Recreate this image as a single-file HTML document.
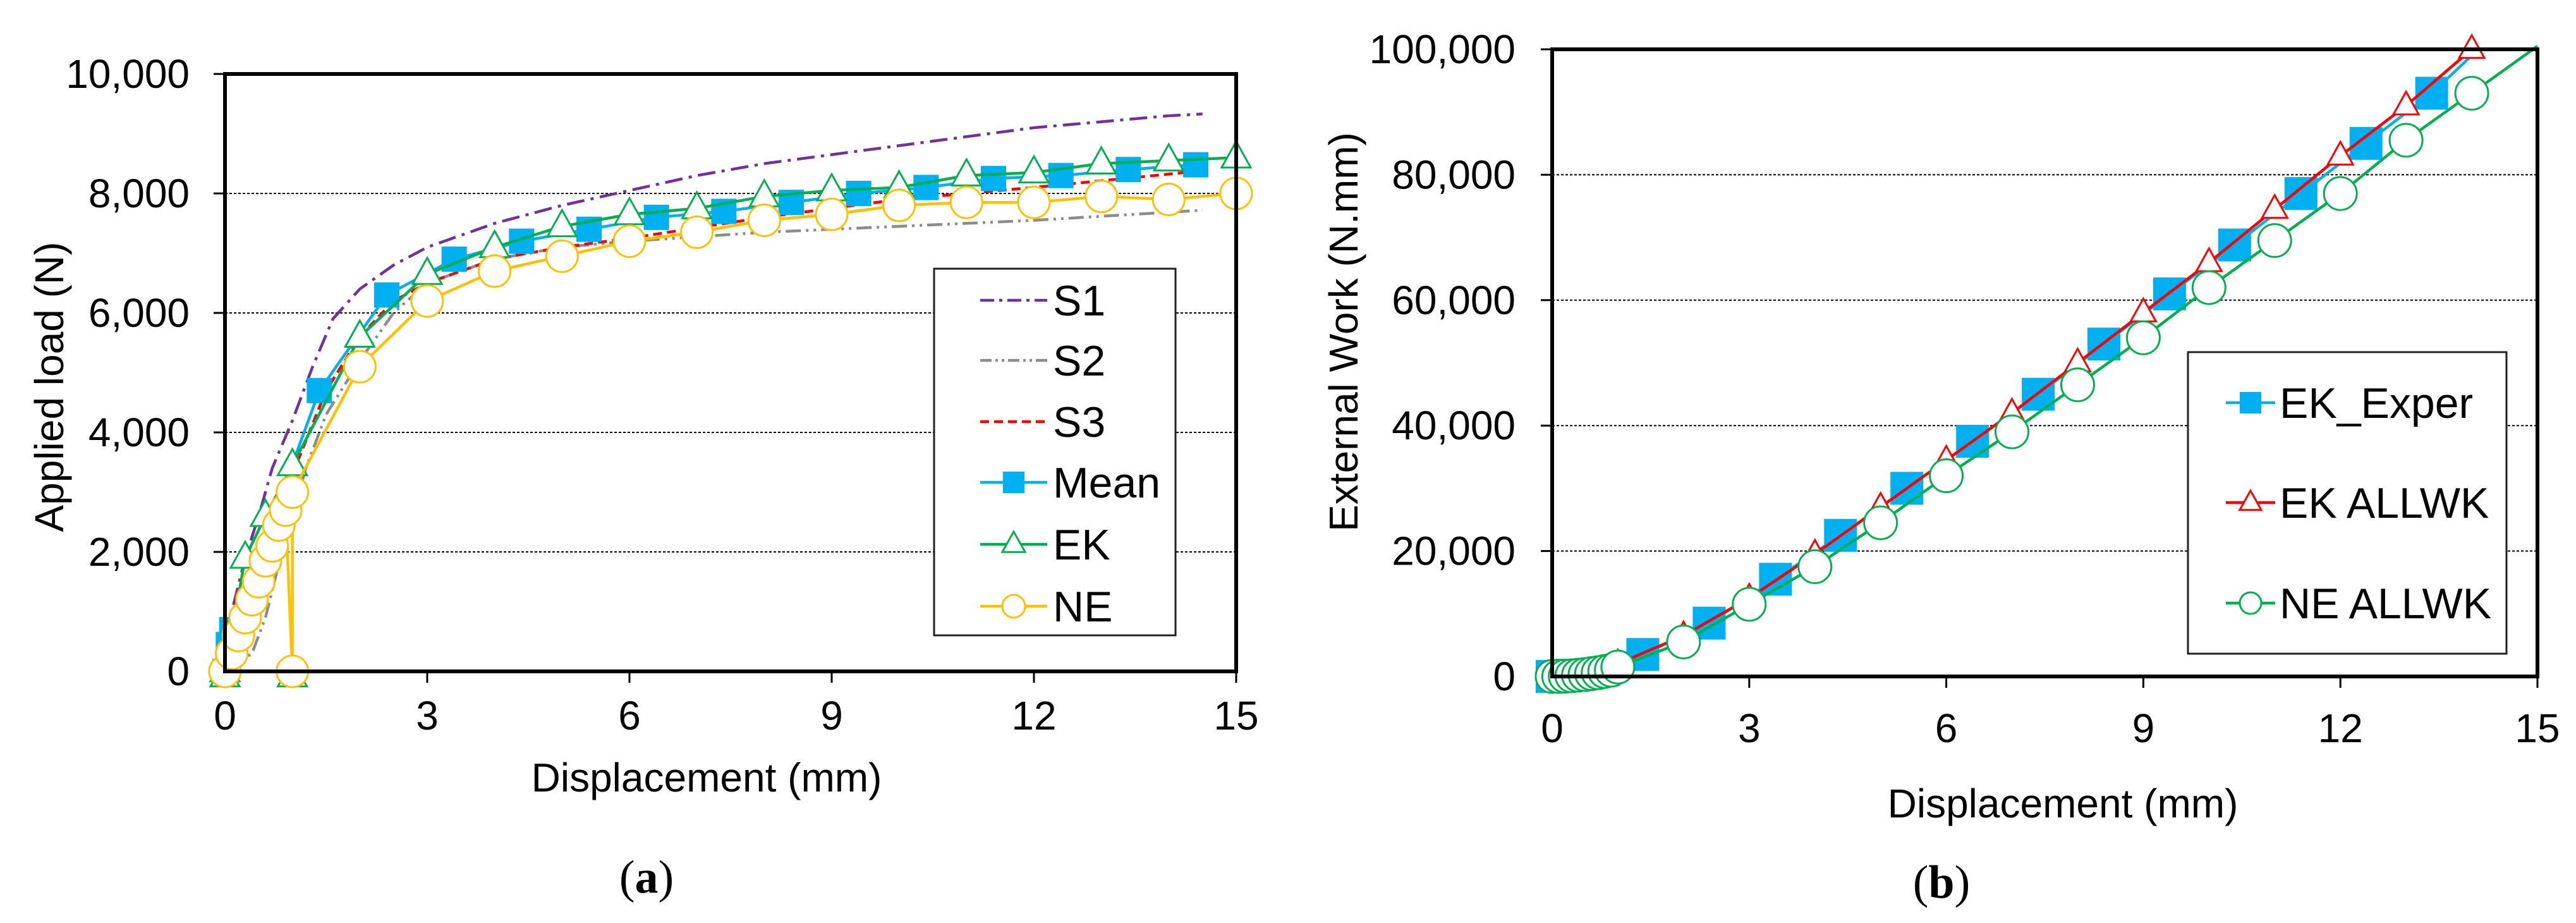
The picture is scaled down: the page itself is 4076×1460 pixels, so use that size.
<!DOCTYPE html>
<html><head><meta charset="utf-8">
<style>
html,body{margin:0;padding:0;background:#fff;}
svg{display:block;font-family:"Liberation Sans",Arial,sans-serif;}
</style></head>
<body>
<svg id="fig" width="4076" height="1460" viewBox="0 0 4076 1460" xmlns="http://www.w3.org/2000/svg">
<rect width="4076" height="1460" fill="#fff"/>
<g id="chartA"></g>
<g id="chartB"></g>
<text x="1023" y="1412" font-family="Liberation Serif,serif" font-size="74" text-anchor="middle">(<tspan font-weight="bold">a</tspan>)</text>
<text x="3072" y="1420" font-family="Liberation Serif,serif" font-size="74" text-anchor="middle">(<tspan font-weight="bold">b</tspan>)</text>
</svg>
<script>
// ---------- Chart A data ----------
const aXTicks = [0,3,6,9,12,15];
const aYTicks = [0,2000,4000,6000,8000,10000];
const aYTickLabels = ["0","2,000","4,000","6,000","8,000","10,000"];
const aS1X = [0,0.1,0.3,0.5,0.7,1,1.3,1.6,2,2.5,3,4,5,6,7,8,9,10,11,12,13,14,14.5];
const aS1Y = [0,1000,1900,2600,3400,4200,5100,5900,6400,6800,7100,7500,7800,8050,8300,8500,8650,8800,8950,9100,9200,9300,9330];
const aS2X = [0,0.2,0.4,0.6,0.8,1,1.2,1.5,2,2.5,3,4,5,6,8,10,12,14.5];
const aS2Y = [0,150,300,900,1800,2600,3400,4300,5200,6000,6500,6900,7100,7200,7350,7450,7550,7720];
const aS3X = [0,0.5,1,1.5,2,2.5,3,4,5,6,8,10,12,14.5];
const aS3Y = [0,1500,3300,4700,5600,6200,6500,6900,7100,7250,7600,7900,8100,8380];
const aMeanX = [0,0.05,0.1,1.4,2.4,3.4,4.4,5.4,6.4,7.4,8.4,9.4,10.4,11.4,12.4,13.4,14.4];
const aMeanY = [0,450,700,4700,6300,6900,7200,7400,7600,7700,7850,8000,8100,8250,8300,8400,8480];
const aEKX = [0,0.3,0.6,1,2,3,4,5,6,7,8,9,10,11,12,13,14,15];
const aEKY = [0,1900,2600,3450,5600,6650,7100,7450,7650,7750,7950,8050,8100,8300,8350,8500,8550,8600];
const aEKExtraX = [0,1];
const aEKExtraY = [0,0];
const aNEX = [0,0.1,0.2,0.3,0.4,0.5,0.6,0.7,0.8,0.9,1,1,2,3,4,5,6,7,8,9,10,11,12,13,14,15];
const aNEY = [0,300,600,900,1200,1500,1850,2100,2450,2700,0,3000,5100,6200,6700,6950,7200,7350,7550,7650,7800,7850,7850,7950,7900,8000];
const aLegendLabels = ["S1","S2","S3","Mean","EK","NE"];

// ---------- Chart B data ----------
const bXTicks = [0,3,6,9,12,15];
const bYTicks = [0,20000,40000,60000,80000,100000];
const bYTickLabels = ["0","20,000","40,000","60,000","80,000","100,000"];
const bExpX = [0,0.1,0.2,0.3,1.38,2.39,3.4,4.39,5.4,6.4,7.4,8.4,9.4,10.39,11.4,12.39,13.39,14];
const bExpY = [0,0,100,200,3500,8500,15500,22500,30000,37500,45000,53000,61000,68800,77000,85000,93000,99000];
const bExpMarkerCount = 17;
const bEKX = [0,0.2,0.4,0.6,0.8,1,2,3,4,5,6,7,8,9,10,11,12,13,14];
const bEKY = [0,100,300,600,1100,2000,6500,12500,19500,27000,34500,42000,50000,58000,66000,74500,83000,91000,100000];
const bNEX = [0,0.1,0.2,0.3,0.4,0.5,0.6,0.7,0.8,0.9,1,2,3,4,5,6,7,8,9,10,11,12,13,14,15];
const bNEY = [0,0,50,100,200,300,450,600,800,1000,1500,5500,11500,17500,24500,32000,39000,46500,54000,62000,69500,77000,85500,93000,100500];
const bNEMarkerCount = 24;
const bLegendLabels = ["EK_Exper","EK ALLWK","NE ALLWK"];

const NS = "http://www.w3.org/2000/svg";
function mk(parent, tag, attrs){
  const e = document.createElementNS(NS, tag);
  for (const k in attrs) e.setAttribute(k, attrs[k]);
  parent.appendChild(e);
  return e;
}
function txt(parent, x, y, s, size, anchor, extra){
  const t = mk(parent, "text", {x:x, y:y, "font-size":size, "text-anchor":anchor||"middle", fill:"#000"});
  if (extra) t.setAttribute("transform", extra);
  t.textContent = s;
  return t;
}
function marker(parent, kind, x, y, color, sz){
  let e;
  if (kind === "square") {
    e = mk(parent, "rect", {x:x-sz/2, y:y-sz/2, width:sz, height:sz, fill:color});
  } else if (kind === "tri") {
    const h = sz*0.9;
    e = mk(parent, "polygon", {points:`${x},${y-h*0.62} ${x-sz/2},${y+h*0.38} ${x+sz/2},${y+h*0.38}`, fill:"#fff", stroke:color, "stroke-width":3});
  } else {
    e = mk(parent, "circle", {cx:x, cy:y, r:sz/2, fill:"#fff", stroke:color, "stroke-width":3});
  }
  return e;
}
function pathD(xs, ys, sx, sy){
  return xs.map((v,i)=>(i?"L":"M")+sx(v).toFixed(1)+","+sy(ys[i]).toFixed(1)).join(" ");
}

function axes(g, L, R, T, B, xTicks, yTicks, yLabels, sx, sy, xTickY, yLabX){
  yTicks.forEach((v,i)=>{
    if (v>0 && v<yTicks[yTicks.length-1]) {
      const gl = mk(g, "line", {x1:L, x2:R, y1:sy(v), y2:sy(v), stroke:"#000", "stroke-width":2, "stroke-dasharray":"4,3"});
      
      
    }
    mk(g, "line", {x1:L-18, x2:L, y1:sy(v), y2:sy(v), stroke:"#000", "stroke-width":3});
    const t = txt(g, yLabX, sy(v)+22, yLabels[i], 64, "end");
    
    
  });
  xTicks.forEach(v=>{
    mk(g, "line", {x1:sx(v), x2:sx(v), y1:B, y2:B+18, stroke:"#000", "stroke-width":3});
    const t = txt(g, sx(v), xTickY, String(v), 64, "middle");
    
    
  });
}
function frame(g, L, R, T, B){
  const f = mk(g, "rect", {x:L, y:T, width:R-L, height:B-T, fill:"none", stroke:"#000", "stroke-width":6});
  
  
}

// ================= Chart A =================
(function(){
  const g = document.getElementById("chartA");
  const L=356, R=1956, T=117, B=1062;
  const sx = v => L + v/15*(R-L);
  const sy = v => B - v/10000*(B-T);
  axes(g, L, R, T, B, aXTicks, aYTicks, aYTickLabels, sx, sy, 1154, 300);

  const series = [
    {xs:aS1X, ys:aS1Y, color:"#7030A0", dash:"28,10,5,10", name:"series-s1"},
    {xs:aS2X, ys:aS2Y, color:"#8c8c8c", dash:"24,8,4,8,4,8", name:"series-s2"},
    {xs:aS3X, ys:aS3Y, color:"#ff0000", dash:"14,8", name:"series-s3"},
    {xs:aMeanX, ys:aMeanY, color:"#00B0F0", dash:"", name:"series-mean", m:"square", sz:40},
    {xs:aEKX, ys:aEKY, color:"#00B050", dash:"", name:"series-ek", m:"tri", sz:46},
    {xs:aNEX, ys:aNEY, color:"#FFC000", dash:"", name:"series-ne", m:"circle", sz:50}
  ];
  series.forEach(s=>{
    const p = mk(g, "path", {d:pathD(s.xs, s.ys, sx, sy), fill:"none", stroke:s.color, "stroke-width":4.5});
    if (s.dash) p.setAttribute("stroke-dasharray", s.dash);
    
    
    if (s.m) {
      s.xs.forEach((v,i)=>{
        const m = marker(g, s.m, sx(v), sy(s.ys[i]), s.color, s.sz);
        
        
      });
      if (s.m === "tri") {
        aEKExtraX.forEach((v,i)=>{
          const m = marker(g, "tri", sx(v), sy(aEKExtraY[i])+8, s.color, s.sz);
          
          
        });
      }
    }
  });
  frame(g, L, R, T, B);

  // legend
  const lg = mk(g, "g", {});
  
  
  mk(lg, "rect", {x:1478, y:425, width:382, height:580, fill:"#fff", stroke:"#222", "stroke-width":3});
  const ly = [475,570,667,763,861,959];
  aLegendLabels.forEach((lab,i)=>{
    const s = series[i];
    const e = mk(lg, "g", {});
    
    
    const ln = mk(e, "line", {x1:1551, x2:1657, y1:ly[i], y2:ly[i], stroke:s.color, "stroke-width":4.5});
    if (s.dash) ln.setAttribute("stroke-dasharray", s.dash==="14,8" ? "14,8" : (s.name==="series-s1"?"22,8,5,8":"18,6,4,6,4,6"));
    if (s.m) marker(e, s.m, 1604, ly[i], s.color, s.m==="square"?34:36);
    txt(e, 1666, ly[i]+24, lab, 68, "start");
  });

  const yt = txt(g, 0, 0, "Applied load (N)", 64, "middle", "translate(100,612) rotate(-90)");
  
  
  const xt = txt(g, 1118, 1252, "Displacement (mm)", 64, "middle");
  
  
})();

// ================= Chart B =================
(function(){
  const g = document.getElementById("chartB");
  const L=2456, R=4015, T=78, B=1070;
  const sx = v => L + v/15*(R-L);
  const sy = v => B - v/100000*(B-T);
  axes(g, L, R, T, B, bXTicks, bYTicks, bYTickLabels, sx, sy, 1174, 2398);

  const series = [
    {xs:bExpX, ys:bExpY, color:"#00B0F0", name:"series-ek-exper", m:"square", sz:52, n:bExpMarkerCount},
    {xs:bEKX, ys:bEKY, color:"#ff0000", name:"series-ek-allwk", m:"tri", sz:40, n:bEKX.length},
    {xs:bNEX, ys:bNEY, color:"#00B050", name:"series-ne-allwk", m:"circle", sz:52, n:bNEMarkerCount}
  ];
  series.forEach(s=>{
    const p = mk(g, "path", {d:pathD(s.xs, s.ys, sx, sy), fill:"none", stroke:s.color, "stroke-width":4.5});
    
    
    for (let i=0;i<s.n;i++){
      const m = marker(g, s.m, sx(s.xs[i]), sy(s.ys[i]), s.color, s.sz);
      
      
    }
  });
  frame(g, L, R, T, B);

  const lg = mk(g, "g", {});
  
  
  mk(lg, "rect", {x:3462, y:557, width:504, height:477, fill:"#fff", stroke:"#222", "stroke-width":3});
  const ly = [637,795,954];
  bLegendLabels.forEach((lab,i)=>{
    const s = series[i];
    const e = mk(lg, "g", {});
    
    
    mk(e, "line", {x1:3522, x2:3600, y1:ly[i], y2:ly[i], stroke:s.color, "stroke-width":4.5});
    marker(e, s.m, 3561, ly[i], s.color, 34);
    txt(e, 3607, ly[i]+24, lab, 68, "start");
  });

  const yt = txt(g, 0, 0, "External Work (N.mm)", 64, "middle", "translate(2148,525) rotate(-90)");
  
  
  const xt = txt(g, 3264, 1293, "Displacement (mm)", 64, "middle");
  
  
})();
</script>
</body></html>
